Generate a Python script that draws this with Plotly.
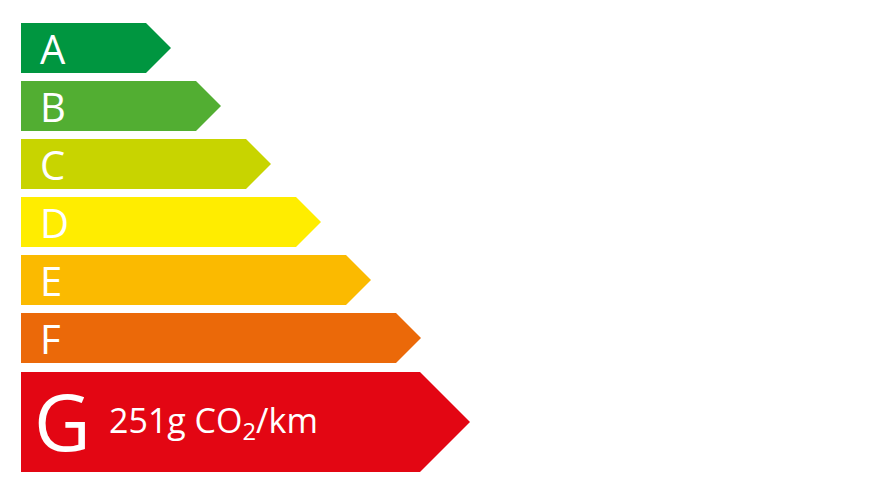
import plotly.graph_objects as go

classes = ['A', 'B', 'C', 'D', 'E', 'F', 'G']
class_rank = [1, 2, 3, 4, 5, 6, 7]
colors = ['#009640', '#52AE32', '#C8D400', '#FFED00', '#FBBA00', '#EB6909', '#E30613']
current_class = 'G'
current_value = 251
value_unit = 'g CO<sub>2</sub>/km'

# geometry (pixel-like axis units)
X0 = 21
BASE = 75
STEP = 50
ROW_H = 50
ROW_GAP = 8
TOP = 23
PAGE_OFF = 8  # default body margin of the html page

fig = go.Figure()
y = TOP
for cls, rank, col in zip(classes, class_rank, colors):
    if cls == current_class:
        h = 100
        y += 1
        end = X0 + BASE + STEP * rank - 26
        tip = h / 2
    else:
        h = ROW_H
        end = X0 + BASE + STEP * rank
        tip = 25
    xs = [X0, end, end + tip, end, X0, X0]
    ys = [y, y, y + h / 2, y + h, y + h, y]
    fig.add_trace(go.Scatter(x=xs, y=ys, fill='toself', fillcolor=col,
                             mode='lines', line=dict(width=0, color=col),
                             hoverinfo='skip', showlegend=False))
    if cls == current_class:
        fig.add_annotation(x=X0 + 11, y=y + h / 2 - 1, text=cls, showarrow=False,
                           xanchor='left', yanchor='middle',
                           font=dict(size=78, color='white', family='Open Sans'))
        fig.add_annotation(x=X0 + 86, y=y + h / 2, text=f'{current_value}{value_unit}',
                           showarrow=False, xanchor='left', yanchor='middle',
                           font=dict(size=34, color='white', family='Open Sans'))
    else:
        fig.add_annotation(x=X0 + 17, y=y + h / 2, text=cls, showarrow=False,
                           xanchor='left', yanchor='middle',
                           font=dict(size=40, color='white', family='Open Sans'))
    y += h + ROW_GAP

fig.update_layout(
    width=890, height=500,
    margin=dict(l=0, r=0, t=0, b=0),
    paper_bgcolor='white', plot_bgcolor='white',
    xaxis=dict(range=[PAGE_OFF, 890 + PAGE_OFF], visible=False, fixedrange=True),
    yaxis=dict(range=[500 + PAGE_OFF, PAGE_OFF], visible=False, fixedrange=True),
)
fig.write_html('out.html')
